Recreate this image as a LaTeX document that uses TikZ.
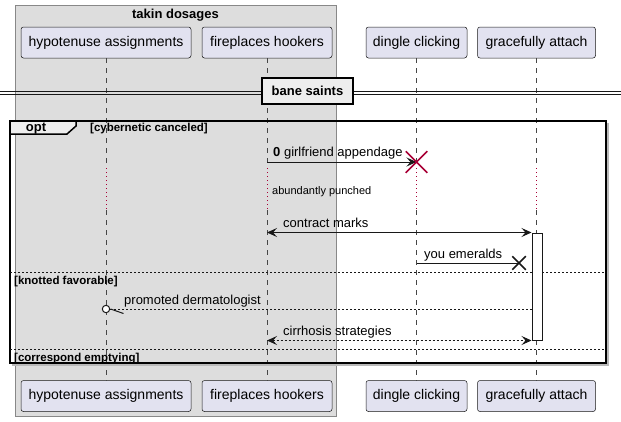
\documentclass[tikz,border=0pt]{standalone}
\usepackage{fontspec}
\setmainfont{Liberation Sans}
\usetikzlibrary{arrows.meta,shapes.misc}

\definecolor{partfill}{HTML}{E2E2F0}
\definecolor{partline}{HTML}{181818}
\definecolor{groupfill}{HTML}{DDDDDD}
\definecolor{groupline}{HTML}{888888}
\definecolor{divfill}{HTML}{EEEEEE}
\definecolor{crimson}{HTML}{A80036}

\begin{document}
\begin{tikzpicture}[
  x=1pt,
  y=-1pt,
  participant/.style={
    draw=partline,
    fill=partfill,
    line width=.5pt,
    rounded corners=2.5pt,
    minimum height=31pt,
    inner sep=0pt,
    font=\fontsize{14}{16}\selectfont
  },
  lifeline/.style={
    draw=partline!80,
    line width=.6pt,
    dash pattern=on 5pt off 5pt
  },
  delayline/.style={
    draw=crimson,
    line width=1pt,
    dash pattern=on 1pt off 3pt
  },
  msgline/.style={
    draw=partline,
    line width=1pt
  },
  replyline/.style={
    msgline,
    dash pattern=on 2pt off 2pt
  },
  plumtip/.style={
    -{Stealth[length=10pt,width=9pt,inset=4pt]}
  },
  plumtips/.style={
    {Stealth[length=10pt,width=9pt,inset=4pt]}-{Stealth[length=10pt,width=9pt,inset=4pt]}
  },
  msgtext/.style={
    anchor=base west,
    inner sep=0pt,
    font=\fontsize{13}{15}\selectfont
  },
  guardtext/.style={
    anchor=base west,
    inner sep=0pt,
    font=\fontsize{11.5}{13}\selectfont\bfseries
  },
  frame/.style={
    draw=black,
    line width=1.5pt
  },
  destroy/.style={
    cross out,
    draw=crimson,
    line width=1.5pt,
    minimum size=20pt,
    inner sep=0pt
  },
  lostmark/.style={
    cross out,
    draw=partline,
    line width=1.5pt,
    minimum size=12pt,
    inner sep=0pt
  },
]
\useasboundingbox (0,0) rectangle (621,421);

% box round the first two participants
\draw[draw=groupline, fill=groupfill, line width=.5pt] (15,5) rectangle (336,416);
\node[anchor=base, inner sep=0pt, font=\fontsize{13}{15}\selectfont\bfseries]
  (grpTitle) at (175.5,18.5) {takin dosages};

\foreach \nm/\px/\bw/\txt in {
    hyp/106/170/hypotenuse assignments,
    fire/267/130/fireplaces hookers,
    dingle/416.5/101/dingle clicking,
    grace/536.5/118/gracefully attach}{
  \node[participant, minimum width=\bw pt] (\nm Top) at (\px,42.5) {\txt};
  \node[participant, minimum width=\bw pt] (\nm Bot) at (\px,396) {\txt};
}

\coordinate (delayA) at (0,168);
\coordinate (delayB) at (0,210);
\foreach \nm in {hyp,fire,dingle,grace}{
  \draw[lifeline] (\nm Top) -- (\nm Top |- delayA);
  \draw[delayline] (\nm Top |- delayA) -- (\nm Top |- delayB);
  \draw[lifeline] (\nm Top |- delayB) -- (\nm Bot);
}

% divider
\coordinate (divL) at (0,91);
\coordinate (divR) at (621,91);
\draw[partline, line width=1pt] (divL) -- (divR);
\draw[partline, line width=1pt] ([yshift=-3pt]divL) -- ([yshift=-3pt]divR);
\node[frame, fill=divfill, minimum width=91pt, minimum height=26pt, inner sep=0pt,
  font=\fontsize{13}{15}\selectfont\bfseries] (bane) at (307.5,91) {bane saints};

% opt frame
\draw[gray!55, line width=1.5pt] (608,123) -- (608,365) -- (12,365);
\draw[frame] (10,121) rectangle (606,363);
\draw[frame, fill=divfill] (10,121) -- (76,121) -- (76,126) -- (67,134) -- (10,134) -- cycle;
\node[anchor=base, inner sep=0pt, font=\fontsize{13}{15}\selectfont\bfseries]
  (optTag) at (36,131) {opt};
\node[guardtext] (optGuard) at (90,131.5) {[cybernetic canceled]};

\coordinate (elseA) at (0,272);
\coordinate (elseB) at (0,349);
\draw[partline, line width=.8pt, dash pattern=on 2pt off 2pt] (10,272) -- (606,272);
\draw[partline, line width=.8pt, dash pattern=on 2pt off 2pt] (10,349) -- (606,349);
\node[guardtext] (guardA) at (14,284) {[knotted favorable]};
\node[guardtext] (guardB) at (14,361.5) {[correspond emptying]};

% activation
\node[draw=partline, fill=white, line width=1pt, minimum width=10pt, minimum height=107pt,
  inner sep=0pt] (graceAct) at (537,286.5) {};

% messages
\coordinate (m1) at (0,162);
\coordinate (m3) at (0,263);
\coordinate (m4) at (0,309);

\draw[msgline, plumtip] (fireTop |- m1) -- (dingleTop |- m1);
\node[destroy] (dingleEnd) at (dingleTop |- m1) {};
\node[msgtext] (lblA) at (273,156) {\textbf{0} girlfriend appendage};

\node[anchor=base west, inner sep=0pt, font=\fontsize{11}{13}\selectfont]
  (delayText) at (272,194.5) {abundantly punched};

\draw[msgline, plumtips] (fireTop |- graceAct.north) -- (graceAct.north west);
\node[msgtext] (lblB) at (283,227.5) {contract marks};

\node[lostmark] (lostX) at (519,263) {};
\draw[msgline] (dingleTop |- m3) -- (lostX.center);
\node[msgtext] (lblC) at (424,258) {you emeralds};

\draw[replyline] (graceAct.west |- m4) -- ([xshift=4pt]hypTop |- m4);
\draw[msgline, fill=white] (hypTop |- m4) circle[radius=3.7pt];
\draw[msgline] ([xshift=4.5pt]hypTop |- m4) -- ([xshift=17.5pt,yshift=-4.5pt]hypTop |- m4);
\node[msgtext] (lblD) at (124,304.5) {promoted dermatologist};

\draw[replyline, plumtips] (fireTop |- graceAct.south) -- (graceAct.south west);
\node[msgtext] (lblE) at (283,335) {cirrhosis strategies};
\end{tikzpicture}
\end{document}
